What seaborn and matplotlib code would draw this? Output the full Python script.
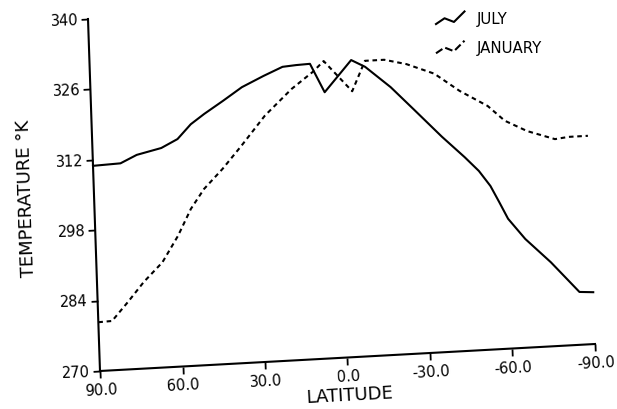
import numpy as np
import pandas as pd
import matplotlib
matplotlib.use("Agg")
import matplotlib.pyplot as plt
import seaborn as sns
from matplotlib.transforms import Affine2D
from matplotlib.lines import Line2D
from matplotlib.legend_handler import HandlerBase
import mpl_toolkits.axisartist.floating_axes as floating_axes
from mpl_toolkits.axisartist.grid_finder import FixedLocator

# ---- data -------------------------------------------------------------
lat_july = [90, 80, 74, 65, 59, 54, 49, 42, 35, 27, 20, 15, 10, 5,
            -5, -10, -19, -27, -37, -45, -50, -54, -57, -60, -66, -75, -85, -90]
temp_july = [310.8, 311.0, 312.5, 313.6, 315.2, 318.0, 319.9, 322.3, 324.8,
             326.8, 328.4, 328.6, 328.7, 322.9, 329.0, 327.5, 323.2, 318.6,
             312.8, 308.5, 305.6, 302.5, 299.2, 295.8, 291.6, 286.7, 280.5, 280.3]

lat_jan = [90, 85, 79, 73, 66, 60, 55, 50, 43, 36, 27, 17, 9, 5,
           -5, -10, -17, -25, -35, -44, -54, -60, -68, -78, -83, -90]
temp_jan = [279.7, 279.8, 283.4, 287.2, 290.9, 296.0, 301.2, 305.0, 308.8,
            313.1, 318.9, 323.9, 327.1, 329.1, 322.8, 328.7, 328.7, 327.6,
            325.4, 321.7, 318.4, 315.3, 313.0, 311.1, 311.4, 311.4]

lat_ticks = [90, 60, 30, 0, -30, -60, -90]
temp_ticks = [270, 284, 298, 312, 326, 340]
month_names = ["JULY", "JANUARY"]

df = pd.concat([
    pd.DataFrame({"lat": lat_july, "temp": temp_july, "month": month_names[0]}),
    pd.DataFrame({"lat": lat_jan, "temp": temp_jan, "month": month_names[1]}),
], ignore_index=True)

# ---- figure -------------------------------------------------------------
W, H = 617, 410
fig = plt.figure(figsize=(W / 100, H / 100), dpi=100)

# The frame is a slightly sheared parallelogram.  The grid helper works in
# (u, T) with u = -lat so that u grows to the right; the data axes work in
# (lat, T) directly.  Both end up in figure pixels (y measured upward).
shear = Affine2D(np.array([[495.0, -12.0, 100.0],
                           [27.0, 352.0, 38.0],
                           [0.0, 0.0, 1.0]]))
tr_grid = Affine2D().translate(90, -270).scale(1 / 180, 1 / 70) + shear
tr_data = Affine2D().scale(-1, 1) + tr_grid


def fmt_lat(direction, factor, values):
    return [f"{-v + 0:.1f}" for v in values]


def fmt_temp(direction, factor, values):
    return [f"{v:.0f}" for v in values]


helper = floating_axes.GridHelperCurveLinear(
    tr_grid,
    extremes=(-90, 90, 270, 340),
    grid_locator1=FixedLocator([-t for t in lat_ticks]),
    grid_locator2=FixedLocator(temp_ticks),
    tick_formatter1=fmt_lat,
    tick_formatter2=fmt_temp,
)

ax = fig.add_axes([0, 0, 1, 1], axes_class=floating_axes.FloatingAxes,
                  grid_helper=helper)
ax.set_xlim(0, W)
ax.set_ylim(0, H)
ax.patch.set_visible(False)

data_ax = ax.get_aux_axes(tr_data)

sns.lineplot(
    data=df, x="lat", y="temp", hue="month", style="month",
    palette={"JULY": "black", "JANUARY": "black"},
    dashes={"JULY": "", "JANUARY": (2.2, 1.8)},
    estimator=None, sort=False, legend=False, linewidth=1.5, ax=data_ax,
)

for side in ["top", "right"]:
    ax.axis[side].set_visible(False)

for side in ["left", "bottom"]:
    a = ax.axis[side]
    a.line.set_linewidth(1.5)
    a.line.set_color("black")
    t = a.major_ticks
    t.set_visible(True)
    t.set_tick_out(True)
    t.set_ticksize(5)
    t.set_markeredgewidth(1.3)
    t.set_markeredgecolor("black")
    t.set_color("black")
    a.major_ticklabels.set_fontsize(10.5)
    a.label.set_fontsize(13)

ax.axis["left"].major_ticklabels.set_pad(2)
ax.axis["bottom"].major_ticklabels.set_pad(3)
ax.axis["bottom"].label.set_text("LATITUDE")
ax.axis["bottom"].label.set_pad(4)
ax.axis["left"].label.set_text("TEMPERATURE °K")
ax.axis["left"].label.set_pad(15)


# ---- legend with small wavy keys ------------------------------------------
class SquiggleHandler(HandlerBase):
    def create_artists(self, legend, orig_handle, xdescent, ydescent,
                       width, height, fontsize, trans):
        xs = np.array([0.0, 0.3, 0.63, 1.0]) * width - xdescent
        ys = np.array([-0.1, 0.45, 0.1, 1.1]) * height - ydescent
        line = Line2D(xs, ys, color=orig_handle.get_color(),
                      linestyle=orig_handle.get_linestyle(),
                      linewidth=orig_handle.get_linewidth())
        line.set_transform(trans)
        return [line]


handles = [
    Line2D([], [], color="black", linewidth=1.5, linestyle="-"),
    Line2D([], [], color="black", linewidth=1.5, linestyle=(0, (2.2, 1.8))),
]
fig.legend(handles, month_names, handler_map={Line2D: SquiggleHandler()},
           loc="upper left", bbox_to_anchor=(430 / W, 1 - 6 / H),
           frameon=False, fontsize=10.8, handlelength=1.9,
           handletextpad=0.8, labelspacing=0.95, borderaxespad=0)

fig.savefig("out.png", dpi=100)
